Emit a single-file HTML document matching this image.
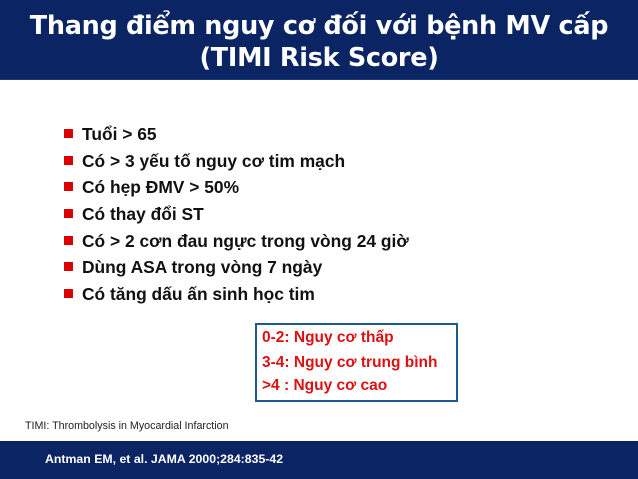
<!DOCTYPE html>
<html><head><meta charset="utf-8"><style>
body{margin:0;width:638px;height:479px;position:relative;background:#fff;overflow:hidden;font-family:"Liberation Sans",sans-serif}
#hdr{position:absolute;left:0;top:0;width:638px;height:79px;background:#0b2463;border-bottom:1px solid #1a3a80}
#hdr div{position:absolute;left:0;width:638px;text-align:center;color:#fff;font-family:"DejaVu Sans",sans-serif;font-weight:bold;font-size:25.5px;letter-spacing:-0.3px}
ul{position:absolute;left:64px;top:121px;margin:0;padding:0;list-style:none}
li{position:relative;height:26.7px;line-height:26px;padding-left:18px;font-weight:bold;font-size:17.4px;color:#111}
li::before{content:"";position:absolute;left:0;top:8px;width:9px;height:9px;background:#d00}
#box{position:absolute;left:255px;top:323px;width:199px;height:75px;border:2px solid #1f5a8a}
#box div{position:absolute;left:5px;color:#d11;font-weight:bold;font-size:15.5px}
#note{position:absolute;left:25px;top:420px;font-size:10.7px;color:#222}
#ftr{position:absolute;left:0;top:441px;width:638px;height:38px;background:#0b2463}
#ftr div{position:absolute;left:45px;top:11px;color:#fff;font-weight:bold;font-size:12.3px}
</style></head><body>
<div id="hdr">
<div style="top:11px">Thang điểm nguy cơ đối với bệnh MV cấp</div>
<div style="top:43px">(TIMI Risk Score)</div>
</div>
<ul>
<li>Tuổi &gt; 65</li>
<li>Có &gt; 3 yếu tố nguy cơ tim mạch</li>
<li>Có hẹp ĐMV &gt; 50%</li>
<li>Có thay đổi ST</li>
<li>Có &gt; 2 cơn đau ngực trong vòng 24 giờ</li>
<li>Dùng ASA trong vòng 7 ngày</li>
<li>Có tăng dấu ấn sinh học tim</li>
</ul>
<div id="box">
<div style="top:4px">0-2: Nguy cơ thấp</div>
<div style="top:29px">3-4: Nguy cơ trung bình</div>
<div style="top:52px">&gt;4 : Nguy cơ cao</div>
</div>
<div id="note">TIMI: Thrombolysis in Myocardial Infarction</div>
<div id="ftr"><div>Antman EM, et al. JAMA 2000;284:835-42</div></div>
</body></html>
